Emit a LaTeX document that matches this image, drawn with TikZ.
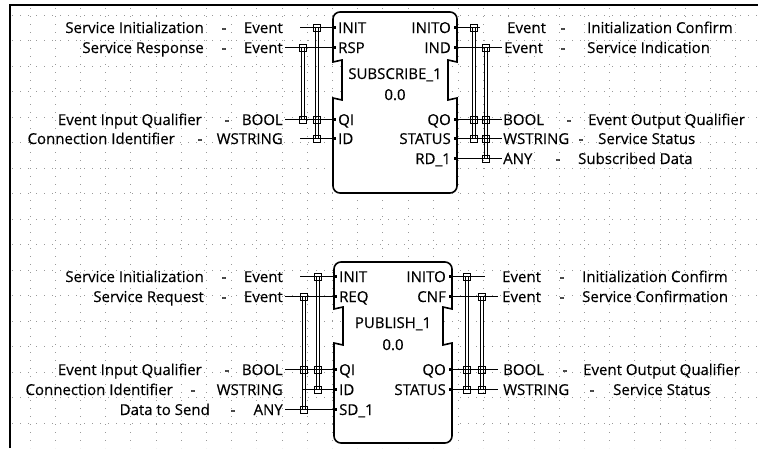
\documentclass[tikz,border=0pt]{standalone}
\usepackage{fontspec}
\setmainfont{Open Sans}[FakeBold=0.35]
\begin{document}
\begin{tikzpicture}[x=1pt,y=-1pt,
  lbl/.style={inner sep=0pt, font=\fontsize{15}{17}\selectfont},
  lw/.style={lbl, anchor=base west},
  le/.style={lbl, anchor=base east},
  lc/.style={lbl, anchor=base},
  wire/.style={line width=1.1pt},
  blk/.style={line width=1.6pt, rounded corners=7pt},
  sq/.style={draw, line width=0.9pt, minimum size=7pt, inner sep=0pt},
  bar/.style={line width=0.8pt},
  pinmark/.style={fill=black, minimum width=3pt, minimum height=3pt, inner sep=0pt},
  griddot/.style={black!40, line width=0.7pt, dash pattern=on 0.7pt off 7.3pt}]
\useasboundingbox (0,0) rectangle (758,448);
% grid
\foreach \i in {0,...,28} \draw[griddot] ({30+25.2*\i},8) -- ({30+25.2*\i},448);
\foreach \j in {0,...,16} \draw[griddot] (12,{15+25.5*\j}) -- (758,{15+25.5*\j});
% frame
\draw[line width=2pt] (10,448) -- (10,5) -- (758,5);

% ================= SUBSCRIBE block =================
\draw[blk, fill=white] (333,150) -- (333,193) -- (457,193) -- (457,105)
  .. controls (457,98) and (448,100) .. (448,93) -- (448,67)
  .. controls (448,60) and (457,62) .. (457,55) -- (457,12) -- (333,12) -- (333,55)
  .. controls (333,62) and (342,60) .. (342,67) -- (342,93)
  .. controls (342,100) and (333,98) .. (333,105) -- cycle;
\node[lc] (t1) at (395,79) {SUBSCRIBE\_1};
\node[lc] (v1) at (395,100) {0.0};
% pins left
\node[lw] (pINIT1) at (338,33) {INIT};
\node[lw] (pRSP1) at (338,53) {RSP};
\node[lw] (pQI1) at (338,125) {QI};
\node[lw] (pID1) at (338,144) {ID};
% pins right
\node[le] (pINITO1) at (451,33) {INITO};
\node[le] (pIND1) at (451,53) {IND};
\node[le] (pQO1) at (451,125) {QO};
\node[le] (pST1) at (451,144) {STATUS};
\node[le] (pRD1) at (451,164) {RD\_1};
% edge coordinates
\foreach \n/\y in {a/27.5,b/47.5,c/119.5,d/138.5}{
  \coordinate (L1\n) at (333,\y);
  \node[pinmark] (mL1\n) at (334.5,\y) {};}
\foreach \n/\y in {a/27.5,b/47.5,c/119.5,d/138.5,e/158.5}{
  \coordinate (R1\n) at (457,\y);
  \node[pinmark] (mR1\n) at (455.5,\y) {};}
% left texts
\node[le] (c1a) at (204,33) {Service Initialization};
\node[lc] (d1a) at (224,33) {-};
\node[le] (e1a) at (283,33) {Event};
\node[le] (c1b) at (204,53) {Service Response};
\node[lc] (d1b) at (224,53) {-};
\node[le] (e1b) at (283,53) {Event};
\node[le] (c1c) at (202,125) {Event Input Qualifier};
\node[lc] (d1c) at (227,125) {-};
\node[le] (e1c) at (283,125) {BOOL};
\node[le] (c1d) at (175,144) {Connection Identifier};
\node[lc] (d1d) at (200,144) {-};
\node[le] (e1d) at (283,144) {WSTRING};
% left wires
\coordinate (w1a) at (300,27.5);
\coordinate (w1b) at (285,47.5);
\coordinate (w1c) at (285,119.5);
\coordinate (w1d) at (300,138.5);
\foreach \n in {a,b,c,d} \draw[wire] (w1\n) -- (L1\n);
\node[sq] (s1a) at (317,27.5) {};
\node[sq] (s1b) at (303,47.5) {};
\node[sq] (s1c) at (303,119.5) {};
\node[sq] (s1cc) at (317,119.5) {};
\node[sq] (s1d) at (317,138.5) {};
\draw[bar] ([xshift=-1.5pt]s1a.center) rectangle ([xshift=1.5pt]s1d.center);
\draw[bar] ([xshift=-1.5pt]s1b.center) rectangle ([xshift=1.5pt]s1c.center);
% right wires
\coordinate (x1a) at (480,27.5);
\coordinate (x1b) at (502,47.5);
\coordinate (x1c) at (502,119.5);
\coordinate (x1d) at (502,138.5);
\coordinate (x1e) at (502,158.5);
\foreach \n in {a,b,c,d,e} \draw[wire] (R1\n) -- (x1\n);
\node[sq] (r1a) at (474,27.5) {};
\node[sq] (r1b) at (486,47.5) {};
\node[sq] (r1c) at (474,119.5) {};
\node[sq] (r1cc) at (486,119.5) {};
\node[sq] (r1d) at (474,138.5) {};
\node[sq] (r1dd) at (486,138.5) {};
\node[sq] (r1e) at (486,158.5) {};
\draw[bar] ([xshift=-1.5pt]r1a.center) rectangle ([xshift=1.5pt]r1d.center);
\draw[bar] ([xshift=-1.5pt]r1b.center) rectangle ([xshift=1.5pt]r1e.center);
% right texts
\node[lw] (f1a) at (507,33) {Event};
\node[lc] (g1a) at (563,33) {-};
\node[lw] (h1a) at (587,33) {Initialization Confirm};
\node[lw] (f1b) at (504,53) {Event};
\node[lc] (g1b) at (563,53) {-};
\node[lw] (h1b) at (587,53) {Service Indication};
\node[lw] (f1c) at (503,125) {BOOL};
\node[lc] (g1c) at (569,125) {-};
\node[lw] (h1c) at (588,125) {Event Output Qualifier};
\node[lw] (f1d) at (503,144) {WSTRING};
\node[lc] (g1d) at (581,144) {-};
\node[lw] (h1d) at (598,144) {Service Status};
\node[lw] (f1e) at (503,164) {ANY};
\node[lc] (g1e) at (558,164) {-};
\node[lw] (h1e) at (578,164) {Subscribed Data};

% ================= PUBLISH block =================
\draw[blk, fill=white] (334,400) -- (334,443) -- (452,443) -- (452,350)
  .. controls (452,343) and (443,345) .. (443,338) -- (443,314)
  .. controls (443,307) and (452,309) .. (452,302) -- (452,262) -- (334,262) -- (334,302)
  .. controls (334,309) and (343,307) .. (343,314) -- (343,338)
  .. controls (343,345) and (334,343) .. (334,350) -- cycle;
\node[lc] (t2) at (393,328) {PUBLISH\_1};
\node[lc] (v2) at (393,350) {0.0};
\node[lw] (pINIT2) at (339,282) {INIT};
\node[lw] (pREQ2) at (339,302) {REQ};
\node[lw] (pQI2) at (339,375) {QI};
\node[lw] (pID2) at (339,395) {ID};
\node[lw] (pSD2) at (339,415) {SD\_1};
\node[le] (pINITO2) at (446,282) {INITO};
\node[le] (pCNF2) at (446,302) {CNF};
\node[le] (pQO2) at (446,375) {QO};
\node[le] (pST2) at (446,395) {STATUS};
\foreach \n/\y in {a/276.5,b/296.5,c/369.5,d/389.5,e/409.5}{
  \coordinate (L2\n) at (334,\y);
  \node[pinmark] (mL2\n) at (335.5,\y) {};}
\foreach \n/\y in {a/276.5,b/296.5,c/369.5,d/389.5}{
  \coordinate (R2\n) at (452,\y);
  \node[pinmark] (mR2\n) at (450.5,\y) {};}
\node[le] (c2a) at (204,282) {Service Initialization};
\node[lc] (d2a) at (224,282) {-};
\node[le] (e2a) at (283,282) {Event};
\node[le] (c2b) at (204,302) {Service Request};
\node[lc] (d2b) at (224,302) {-};
\node[le] (e2b) at (283,302) {Event};
\node[le] (c2c) at (202,375) {Event Input Qualifier};
\node[lc] (d2c) at (227,375) {-};
\node[le] (e2c) at (283,375) {BOOL};
\node[le] (c2d) at (173,395) {Connection Identifier};
\node[lc] (d2d) at (193,395) {-};
\node[le] (e2d) at (283,395) {WSTRING};
\node[le] (c2e) at (210,415) {Data to Send};
\node[lc] (d2e) at (233,415) {-};
\node[le] (e2e) at (283,415) {ANY};
\coordinate (w2a) at (300,276.5);
\coordinate (w2b) at (285,296.5);
\coordinate (w2c) at (285,369.5);
\coordinate (w2d) at (303,389.5);
\coordinate (w2e) at (285,409.5);
\foreach \n in {a,b,c,d,e} \draw[wire] (w2\n) -- (L2\n);
\node[sq] (s2a) at (318,276.5) {};
\node[sq] (s2b) at (304,296.5) {};
\node[sq] (s2c) at (304,369.5) {};
\node[sq] (s2cc) at (318,369.5) {};
\node[sq] (s2d) at (318,389.5) {};
\node[sq] (s2e) at (304,409.5) {};
\draw[bar] ([xshift=-1.5pt]s2a.center) rectangle ([xshift=1.5pt]s2d.center);
\draw[bar] ([xshift=-1.5pt]s2b.center) rectangle ([xshift=1.5pt]s2e.center);
\coordinate (x2a) at (485,276.5);
\coordinate (x2b) at (498,296.5);
\coordinate (x2c) at (498,369.5);
\coordinate (x2d) at (498,389.5);
\foreach \n in {a,b,c,d} \draw[wire] (R2\n) -- (x2\n);
\node[sq] (r2a) at (467,276.5) {};
\node[sq] (r2b) at (482,296.5) {};
\node[sq] (r2c) at (467,369.5) {};
\node[sq] (r2cc) at (482,369.5) {};
\node[sq] (r2d) at (467,389.5) {};
\node[sq] (r2dd) at (482,389.5) {};
\draw[bar] ([xshift=-1.5pt]r2a.center) rectangle ([xshift=1.5pt]r2d.center);
\draw[bar] ([xshift=-1.5pt]r2b.center) rectangle ([xshift=1.5pt]r2dd.center);
\node[lw] (f2a) at (502,282) {Event};
\node[lc] (g2a) at (562,282) {-};
\node[lw] (h2a) at (582,282) {Initialization Confirm};
\node[lw] (f2b) at (502,302) {Event};
\node[lc] (g2b) at (562,302) {-};
\node[lw] (h2b) at (582,302) {Service Confirmation};
\node[lw] (f2c) at (503,375) {BOOL};
\node[lc] (g2c) at (565,375) {-};
\node[lw] (h2c) at (583,375) {Event Output Qualifier};
\node[lw] (f2d) at (503,395) {WSTRING};
\node[lc] (g2d) at (592,395) {-};
\node[lw] (h2d) at (613,395) {Service Status};
\end{tikzpicture}
\end{document}
